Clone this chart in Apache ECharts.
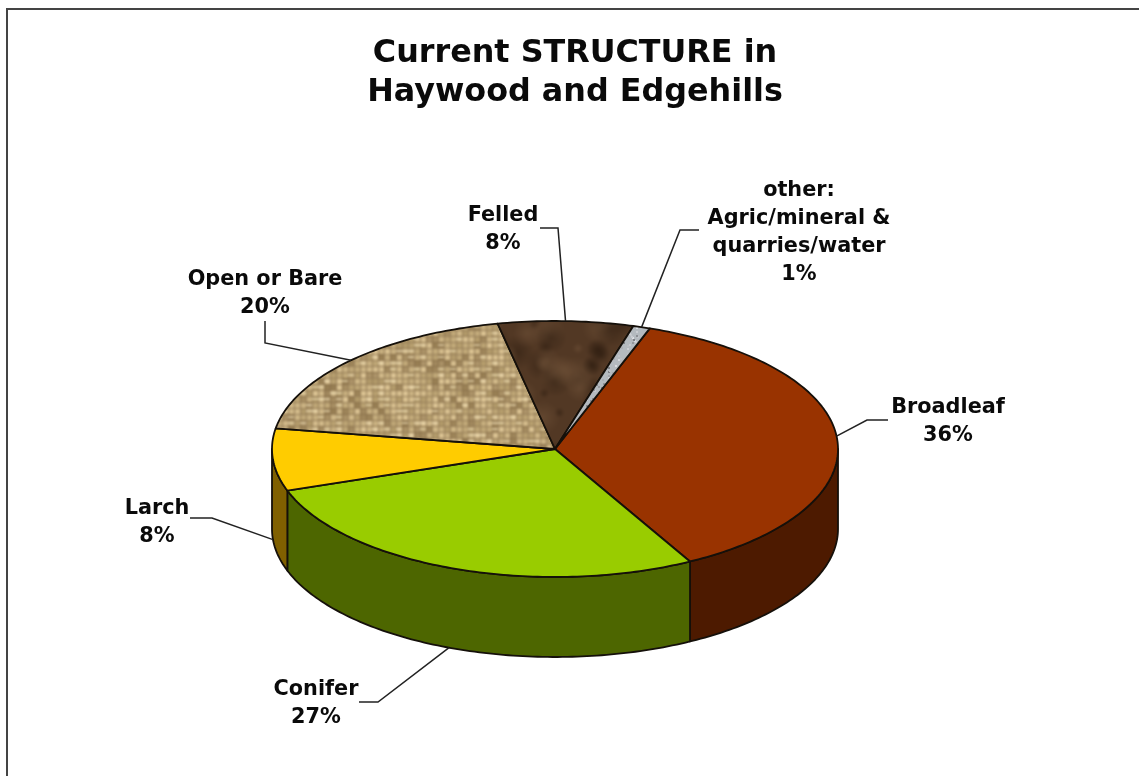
<!DOCTYPE html>
<html>
<head>
<meta charset="utf-8">
<style>html,body{margin:0;padding:0;background:#fff}#c{width:1139px;height:776px}</style>
<script src="https://cdn.jsdelivr.net/npm/echarts@6/dist/echarts.min.js"></script>
</head>
<body>
<div id="c"></div>
<script>
// ---- data ----
const categories = ['Broadleaf', 'Conifer', 'Larch', 'Open or Bare', 'Felled', 'other:\nAgric/mineral &\nquarries/water'];
const values = [36, 27, 8, 20, 8, 1];
const titleText = 'Current STRUCTURE in\nHaywood and Edgehills';

// ---- styles ----
const topColors = ['#993300', '#99cc00', '#ffcc00', 'burlap', 'bark', 'silver'];
const wallColors = ['#4d1a00', '#4d6600', '#806000', '#5c4d33', '#2a1c10', '#5c5e62'];

// ---- layout ----
const cx = 555, cy = 449, rx = 283, ry = 128, depth = 80;
const startAngle = 21.7, skewAmp = 2.6, skewPhase = 215;
const labelCentres = [[948, 422], [316, 704], [157, 523], [265, 294], [503, 230], [799, 233]];
const leaderElbows = [
  [[867, 420], [888, 420]],
  [[378, 702], [359, 702]],
  [[212, 518], [190, 518]],
  [[265, 343], [265, 321]],
  [[558, 228], [540, 228]],
  [[680, 230], [699, 230]]
];
const total = values.reduce((a, b) => a + b, 0);
const warp = t => t + startAngle + skewAmp * Math.cos((t - skewPhase) * Math.PI / 180);
function sliceAngles(i) {
  let before = 0;
  for (let k = 0; k < i; k++) before += values[k];
  const a = before / total * 360, b = (before + values[i]) / total * 360;
  return [warp(a), warp(b), warp((a + b) / 2)];
}
const rimX = d => cx + rx * Math.sin(d * Math.PI / 180);
const rimY = d => cy - ry * Math.cos(d * Math.PI / 180);

// ---- textures (page-sized so no tile seam falls inside a slice) ----
const texW = 1200, texH = 800;
let seed = 12345;
const rnd = () => (seed = (seed * 16807) % 2147483647) / 2147483647;
function blurred(src, px) {
  const c = document.createElement('canvas'); c.width = src.width; c.height = src.height;
  const g = c.getContext('2d');
  g.filter = 'blur(' + px + 'px)';
  g.drawImage(src, 0, 0);
  return c;
}
function burlap() {
  const c = document.createElement('canvas'); c.width = texW; c.height = texH;
  const g = c.getContext('2d');
  g.fillStyle = '#98805a'; g.fillRect(0, 0, texW, texH);
  const cell = 6;
  for (let y = 0; y < texH; y += cell) for (let x = 0; x < texW; x += cell) {
    const l = 176 + rnd() * 44 | 0;
    g.fillStyle = `rgb(${l},${l - 24 | 0},${l - 72 | 0})`;
    g.fillRect(x + 1, y + 1, cell - 1, cell - 1);
    if (rnd() < 0.2) { g.fillStyle = 'rgba(125,100,62,0.5)'; g.fillRect(x, y, cell, cell); }
    if (rnd() < 0.2) { g.fillStyle = 'rgba(238,222,182,0.6)'; g.fillRect(x, y + 2, cell, 2); }
  }
  return blurred(c, 0.9);
}
function bark() {
  const c = document.createElement('canvas'); c.width = texW; c.height = texH;
  const g = c.getContext('2d');
  g.fillStyle = '#523824'; g.fillRect(0, 0, texW, texH);
  for (let i = 0; i < 4000; i++) {
    const x = rnd() * texW, y = rnd() * texH, r = 5 + rnd() * 14;
    const col = rnd() < 0.5 ? '114,84,58' : '42,26,14';
    const rg = g.createRadialGradient(x, y, 0, x, y, r);
    rg.addColorStop(0, `rgba(${col},0.5)`); rg.addColorStop(1, `rgba(${col},0)`);
    g.fillStyle = rg; g.fillRect(x - r, y - r, 2 * r, 2 * r);
  }
  return blurred(c, 1);
}
function silver() {
  const c = document.createElement('canvas'); c.width = texW; c.height = texH;
  const g = c.getContext('2d');
  g.fillStyle = '#b4babf'; g.fillRect(0, 0, texW, texH);
  for (let i = 0; i < 60000; i++) {
    const l = 125 + rnd() * 95 | 0;
    g.fillStyle = `rgb(${l},${l + 3},${l + 8})`;
    g.fillRect(rnd() * texW | 0, rnd() * texH | 0, 2, 2);
  }
  return blurred(c, 0.6);
}
const patterns = { burlap: burlap(), bark: bark(), silver: silver() };
const fillOf = name => patterns[name] ? { image: patterns[name], repeat: 'repeat' } : name;

// ---- renderers ----
function renderWall(params) {
  const [a, b] = sliceAngles(params.dataIndex);
  const from = Math.max(a, 90), to = Math.min(b, 270);
  if (to <= from) return { type: 'group', children: [] };
  const upper = [], lower = [];
  for (let d = from; d < to; d += 1) { upper.push([rimX(d), rimY(d)]); lower.push([rimX(d), rimY(d) + depth]); }
  upper.push([rimX(to), rimY(to)]); lower.push([rimX(to), rimY(to) + depth]);
  return {
    type: 'polygon',
    shape: { points: upper.concat(lower.reverse()) },
    style: { fill: wallColors[params.dataIndex], stroke: '#15100a', lineWidth: 1.8, lineJoin: 'round' }
  };
}
function renderTop(params) {
  const [a, b] = sliceAngles(params.dataIndex);
  const pts = [[cx, cy]];
  for (let d = a; d < b; d += 1) pts.push([rimX(d), rimY(d)]);
  pts.push([rimX(b), rimY(b)]);
  return {
    type: 'polygon',
    shape: { points: pts },
    style: { fill: fillOf(topColors[params.dataIndex]), stroke: '#15100a', lineWidth: 1.8, lineJoin: 'round' }
  };
}
function renderLabel(params) {
  const i = params.dataIndex;
  const mid = sliceAngles(i)[2] % 360;
  const onFront = mid > 90 && mid < 270;
  const anchor = [rimX(mid), rimY(mid) + (onFront ? depth : 0)];
  const c = labelCentres[i];
  return {
    type: 'group',
    children: [
      { type: 'polyline', shape: { points: [anchor].concat(leaderElbows[i]) },
        style: { fill: null, stroke: '#222', lineWidth: 1.5 } },
      { type: 'text', x: c[0], y: c[1],
        style: { text: categories[i] + '\n' + values[i] + '%', align: 'center', verticalAlign: 'middle',
          font: 'bold 20.8px "DejaVu Sans"', lineHeight: 28, fill: '#0a0a0a' } }
    ]
  };
}
const base = { type: 'custom', coordinateSystem: 'none', data: values, silent: true };

const chart = echarts.init(document.getElementById('c'), null, { renderer: 'canvas' });
chart.setOption({
  animation: false,
  backgroundColor: '#fff',
  title: {
    text: titleText, left: 570, top: 29, textAlign: 'center',
    textStyle: { fontFamily: 'DejaVu Sans', fontWeight: 'bold', fontSize: 31.8, lineHeight: 39, color: '#0a0a0a' }
  },
  graphic: [{ type: 'rect', shape: { x: 7, y: 9, width: 1300, height: 900 }, z: 0,
    style: { fill: 'none', stroke: '#444', lineWidth: 2 } }],
  series: [
    Object.assign({}, base, { name: 'walls', z: 2, renderItem: renderWall }),
    Object.assign({}, base, { name: 'tops', z: 3, renderItem: renderTop }),
    Object.assign({}, base, { name: 'labels', z: 4, renderItem: renderLabel })
  ]
});
</script>
</body>
</html>
